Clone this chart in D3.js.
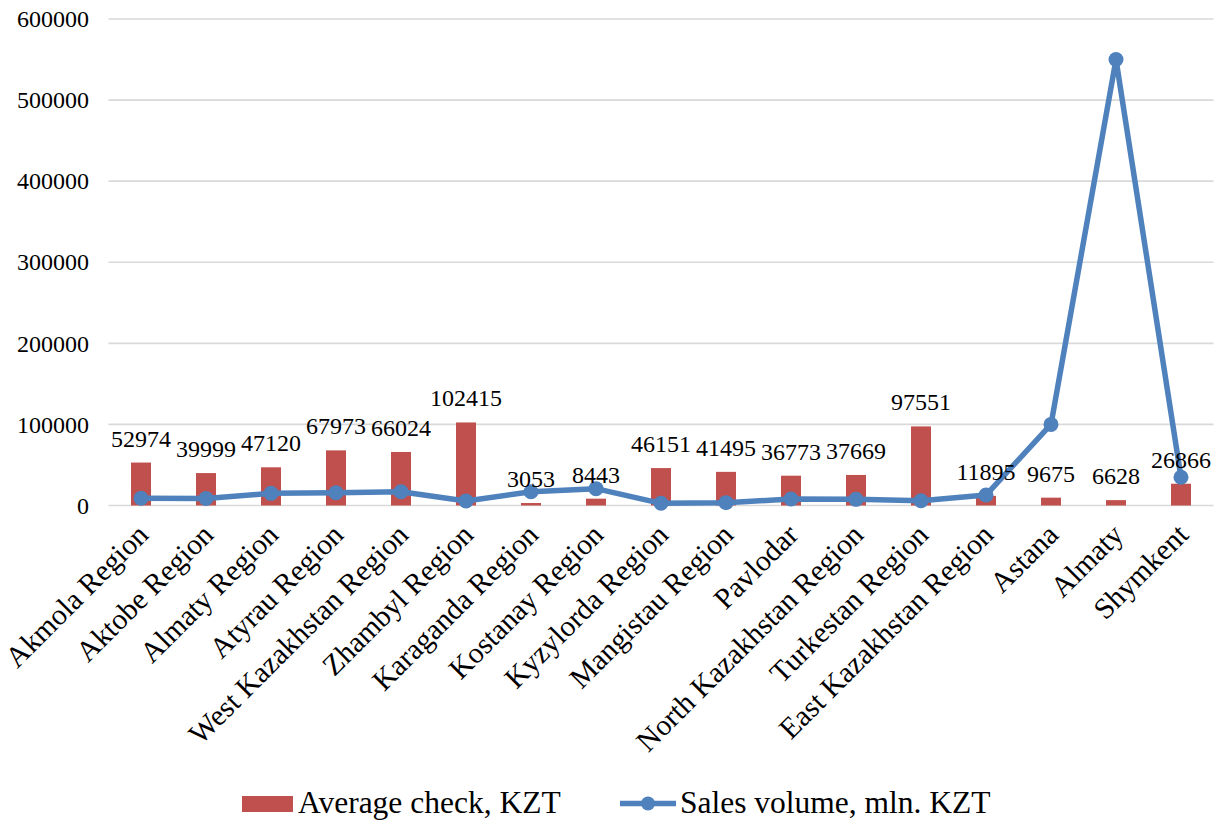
<!DOCTYPE html>
<html>
<head>
<meta charset="utf-8">
<script src="https://cdn.jsdelivr.net/npm/d3@7"></script>
<style>
  html, body { margin: 0; padding: 0; background: #fff; }
  svg { display: block; }
</style>
</head>
<body>
<svg id="chart" width="1220" height="821"></svg>
<script>
// Regions of Kazakhstan
const categories = [
  "Akmola Region", "Aktobe Region", "Almaty Region", "Atyrau Region",
  "West Kazakhstan Region", "Zhambyl Region", "Karaganda Region", "Kostanay Region",
  "Kyzylorda Region", "Mangistau Region", "Pavlodar", "North Kazakhstan Region",
  "Turkestan Region", "East Kazakhstan Region", "Astana", "Almaty", "Shymkent"
];

// Average check, KZT (bars, labelled)
const averageCheck = [
  52974, 39999, 47120, 67973, 66024, 102415, 3053, 8443,
  46151, 41495, 36773, 37669, 97551, 11895, 9675, 6628, 26866
];

// Sales volume, mln. KZT (line)
const salesVolume = [
  8900, 8600, 15000, 15800, 17000, 5500, 17000, 20800,
  2700, 3500, 8000, 7600, 5900, 12900, 100000, 550000, 34800
];

const yTicks = [0, 100000, 200000, 300000, 400000, 500000, 600000];

const seriesNames = ["Average check, KZT", "Sales volume, mln. KZT"];
const barColor = "#C0504D";
const lineColor = "#4F81BD";
const serif = '"Liberation Serif", "Times New Roman", Times, serif';

const svg = d3.select("#chart");

const plot = { left: 108.5, right: 1213.5, top: 19, bottom: 505.5 };

const x = d3.scaleBand()
  .domain(categories)
  .range([plot.left, plot.right])
  .paddingInner(0.6923)
  .paddingOuter(0.3462);

const y = d3.scaleLinear()
  .domain([0, 600000])
  .range([plot.bottom, plot.top]);

const cx = d => x(d) + x.bandwidth() / 2;

// horizontal gridlines
svg.append("g")
  .selectAll("line")
  .data(yTicks)
  .join("line")
  .attr("x1", plot.left)
  .attr("x2", plot.right)
  .attr("y1", d => y(d))
  .attr("y2", d => y(d))
  .attr("stroke", "#D9D9D9")
  .attr("stroke-width", 1.6);

// y axis labels
const yAxis = d3.axisLeft(y).tickValues(yTicks).tickSize(0).tickPadding(0).tickFormat(d3.format("d"));
const yAxisG = svg.append("g")
  .attr("transform", `translate(${plot.left - 19.5},0)`)
  .call(yAxis);
yAxisG.select(".domain").remove();
yAxisG.attr("font-family", null).attr("font-size", null);
yAxisG.selectAll("text")
  .style("font-family", serif)
  .style("font-size", "24px")
  .attr("fill", "#000");

// bars
svg.append("g")
  .selectAll("rect")
  .data(categories)
  .join("rect")
  .attr("x", d => x(d))
  .attr("width", x.bandwidth())
  .attr("y", (d, i) => y(averageCheck[i]))
  .attr("height", (d, i) => y(0) - y(averageCheck[i]))
  .attr("fill", barColor);

// sales line
const line = d3.line()
  .x((d, i) => cx(categories[i]))
  .y(d => y(d));

svg.append("path")
  .datum(salesVolume)
  .attr("d", line)
  .attr("fill", "none")
  .attr("stroke", lineColor)
  .attr("stroke-width", 5.5)
  .attr("stroke-linejoin", "round");

svg.append("g")
  .selectAll("circle")
  .data(salesVolume)
  .join("circle")
  .attr("cx", (d, i) => cx(categories[i]))
  .attr("cy", d => y(d))
  .attr("r", 7.5)
  .attr("fill", lineColor);

// value labels on the bars
svg.append("g")
  .selectAll("text")
  .data(averageCheck)
  .join("text")
  .attr("x", (d, i) => cx(categories[i]))
  .attr("y", d => y(d) - 24)
  .attr("text-anchor", "middle")
  .attr("dominant-baseline", "central")
  .style("font-family", serif)
  .style("font-size", "24px")
  .attr("fill", "#000")
  .text(d => d);

// category labels, rotated
const xAxis = d3.axisBottom(x).tickSize(0).tickPadding(0);
const xAxisG = svg.append("g")
  .attr("transform", `translate(0,${plot.bottom})`)
  .call(xAxis);
xAxisG.select(".domain").remove();
xAxisG.attr("font-family", null).attr("font-size", null);
xAxisG.selectAll("text")
  .style("font-family", serif)
  .style("font-size", "29.5px")
  .attr("fill", "#000")
  .attr("text-anchor", "end")
  .attr("dy", null)
  .attr("y", 0)
  .attr("transform", "translate(9,31) rotate(-45)");

// legend
const legend = svg.append("g");
legend.append("rect")
  .attr("x", 242).attr("y", 796)
  .attr("width", 51).attr("height", 16)
  .attr("fill", barColor);
legend.append("text")
  .attr("x", 298).attr("y", 813)
  .style("font-family", serif)
  .style("font-size", "31.5px")
  .attr("fill", "#000")
  .text(seriesNames[0]);
legend.append("line")
  .attr("x1", 620).attr("x2", 676)
  .attr("y1", 803.5).attr("y2", 803.5)
  .attr("stroke", lineColor)
  .attr("stroke-width", 5.5);
legend.append("circle")
  .attr("cx", 648).attr("cy", 803.5).attr("r", 7)
  .attr("fill", lineColor);
legend.append("text")
  .attr("x", 680).attr("y", 813)
  .style("font-family", serif)
  .style("font-size", "31.5px")
  .attr("fill", "#000")
  .text(seriesNames[1]);
</script>
</body>
</html>
